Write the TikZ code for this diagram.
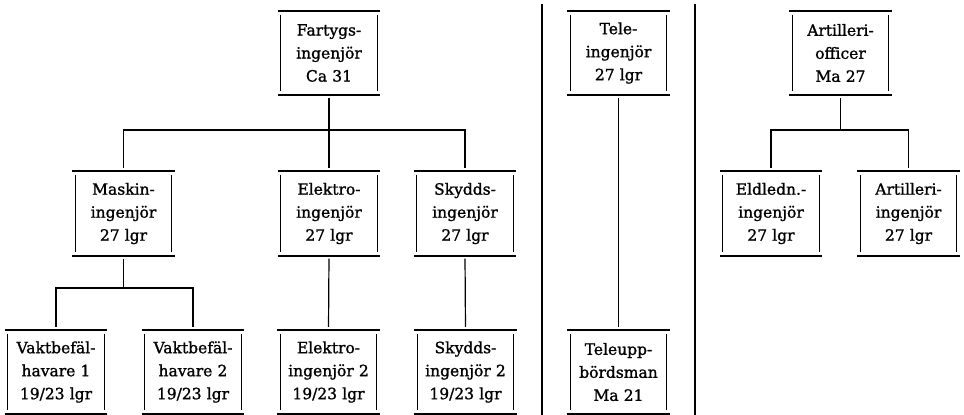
\documentclass[tikz,border=0pt]{standalone}
\usepackage{fontspec}
\setmainfont{DejaVu Serif}[FakeBold=1.2]
\tikzset{
  orgbox/.style={inner sep=0pt, text width=102pt, minimum height=84pt, align=center,
    font=\fontsize{15.5}{23}\selectfont},
  hrule/.style={line width=2pt},
  vrule/.style={line width=1.3pt},
  conn/.style={line width=1.2pt},
  sepline/.style={line width=2.6pt},
}
\newcommand{\orgframe}[1]{%
  \draw[hrule] (#1.north west) -- (#1.north east);
  \draw[hrule] (#1.south west) -- (#1.south east);
  \draw[vrule] ([xshift=3pt,yshift=-4pt]#1.north west) -- ([xshift=3pt,yshift=4pt]#1.south west);
  \draw[vrule] ([xshift=-3pt,yshift=-4pt]#1.north east) -- ([xshift=-3pt,yshift=4pt]#1.south east);
}
\begin{document}
\begin{tikzpicture}[x=1pt,y=-1pt]
\useasboundingbox (0,0) rectangle (964,415);
\fill[white] (0,0) rectangle (964,415);
% nodes
\node[orgbox] (F) at (329,53) {Fartygs-\\ingenjör\\Ca 31};
\node[orgbox] (T) at (618.5,53) {Tele-\\ingenjör\\27 lgr};
\node[orgbox] (A) at (840.5,53) {Artilleri-\\officer\\Ma 27};
\node[orgbox] (M) at (123.5,213.5) {Maskin-\\ingenjör\\27 lgr};
\node[orgbox] (E) at (329,213.5) {Elektro-\\ingenjör\\27 lgr};
\node[orgbox] (S) at (465,213.5) {Skydds-\\ingenjör\\27 lgr};
\node[orgbox] (EL) at (771,213.5) {Eldledn.-\\ingenjör\\27 lgr};
\node[orgbox] (AI) at (908.5,213.5) {Artilleri-\\ingenjör\\27 lgr};
\node[orgbox] (V1) at (56,372) {Vaktbefäl-\\havare 1\\19/23 lgr};
\node[orgbox] (V2) at (193,372) {Vaktbefäl-\\havare 2\\19/23 lgr};
\node[orgbox] (E2) at (328.5,372) {Elektro-\\ingenjör 2\\19/23 lgr};
\node[orgbox] (S2) at (465.5,372) {Skydds-\\ingenjör 2\\19/23 lgr};
\node[orgbox] (TU) at (618.5,372) {Teleupp-\\bördsman\\Ma 21};
\foreach \n in {F,T,A,M,E,S,EL,AI,V1,V2,E2,S2,TU}{\orgframe{\n}}
% separators
\draw[sepline] (542,4) -- (542,415);
\draw[sepline] (695,4) -- (695,415);
% buses
\coordinate (b1) at (329,130);
\coordinate (b2) at (123.5,288);
\coordinate (b3) at (840.5,130);
\draw[conn, shorten <=3pt] (F.south) -- (b1);
\draw[conn, shorten <=3pt, shorten >=3pt] (M.north) |- (b1) -| (S.north);
\draw[conn, shorten >=3pt] (b1) -- (E.north);
\draw[conn, shorten <=3pt] (M.south) -- (b2);
\draw[conn, shorten <=3pt, shorten >=3pt] (V1.north) |- (b2) -| (V2.north);
\draw[conn, shorten <=3pt, shorten >=3pt] (E.south) -- (E2.north);
\draw[conn, shorten <=3pt, shorten >=3pt] (S.south) -- (S2.north);
\draw[conn, shorten <=3pt, shorten >=3pt] (T.south) -- (TU.north);
\draw[conn, shorten <=3pt] (A.south) -- (b3);
\draw[conn, shorten <=3pt, shorten >=3pt] (EL.north) |- (b3) -| (AI.north);
\end{tikzpicture}
\end{document}
